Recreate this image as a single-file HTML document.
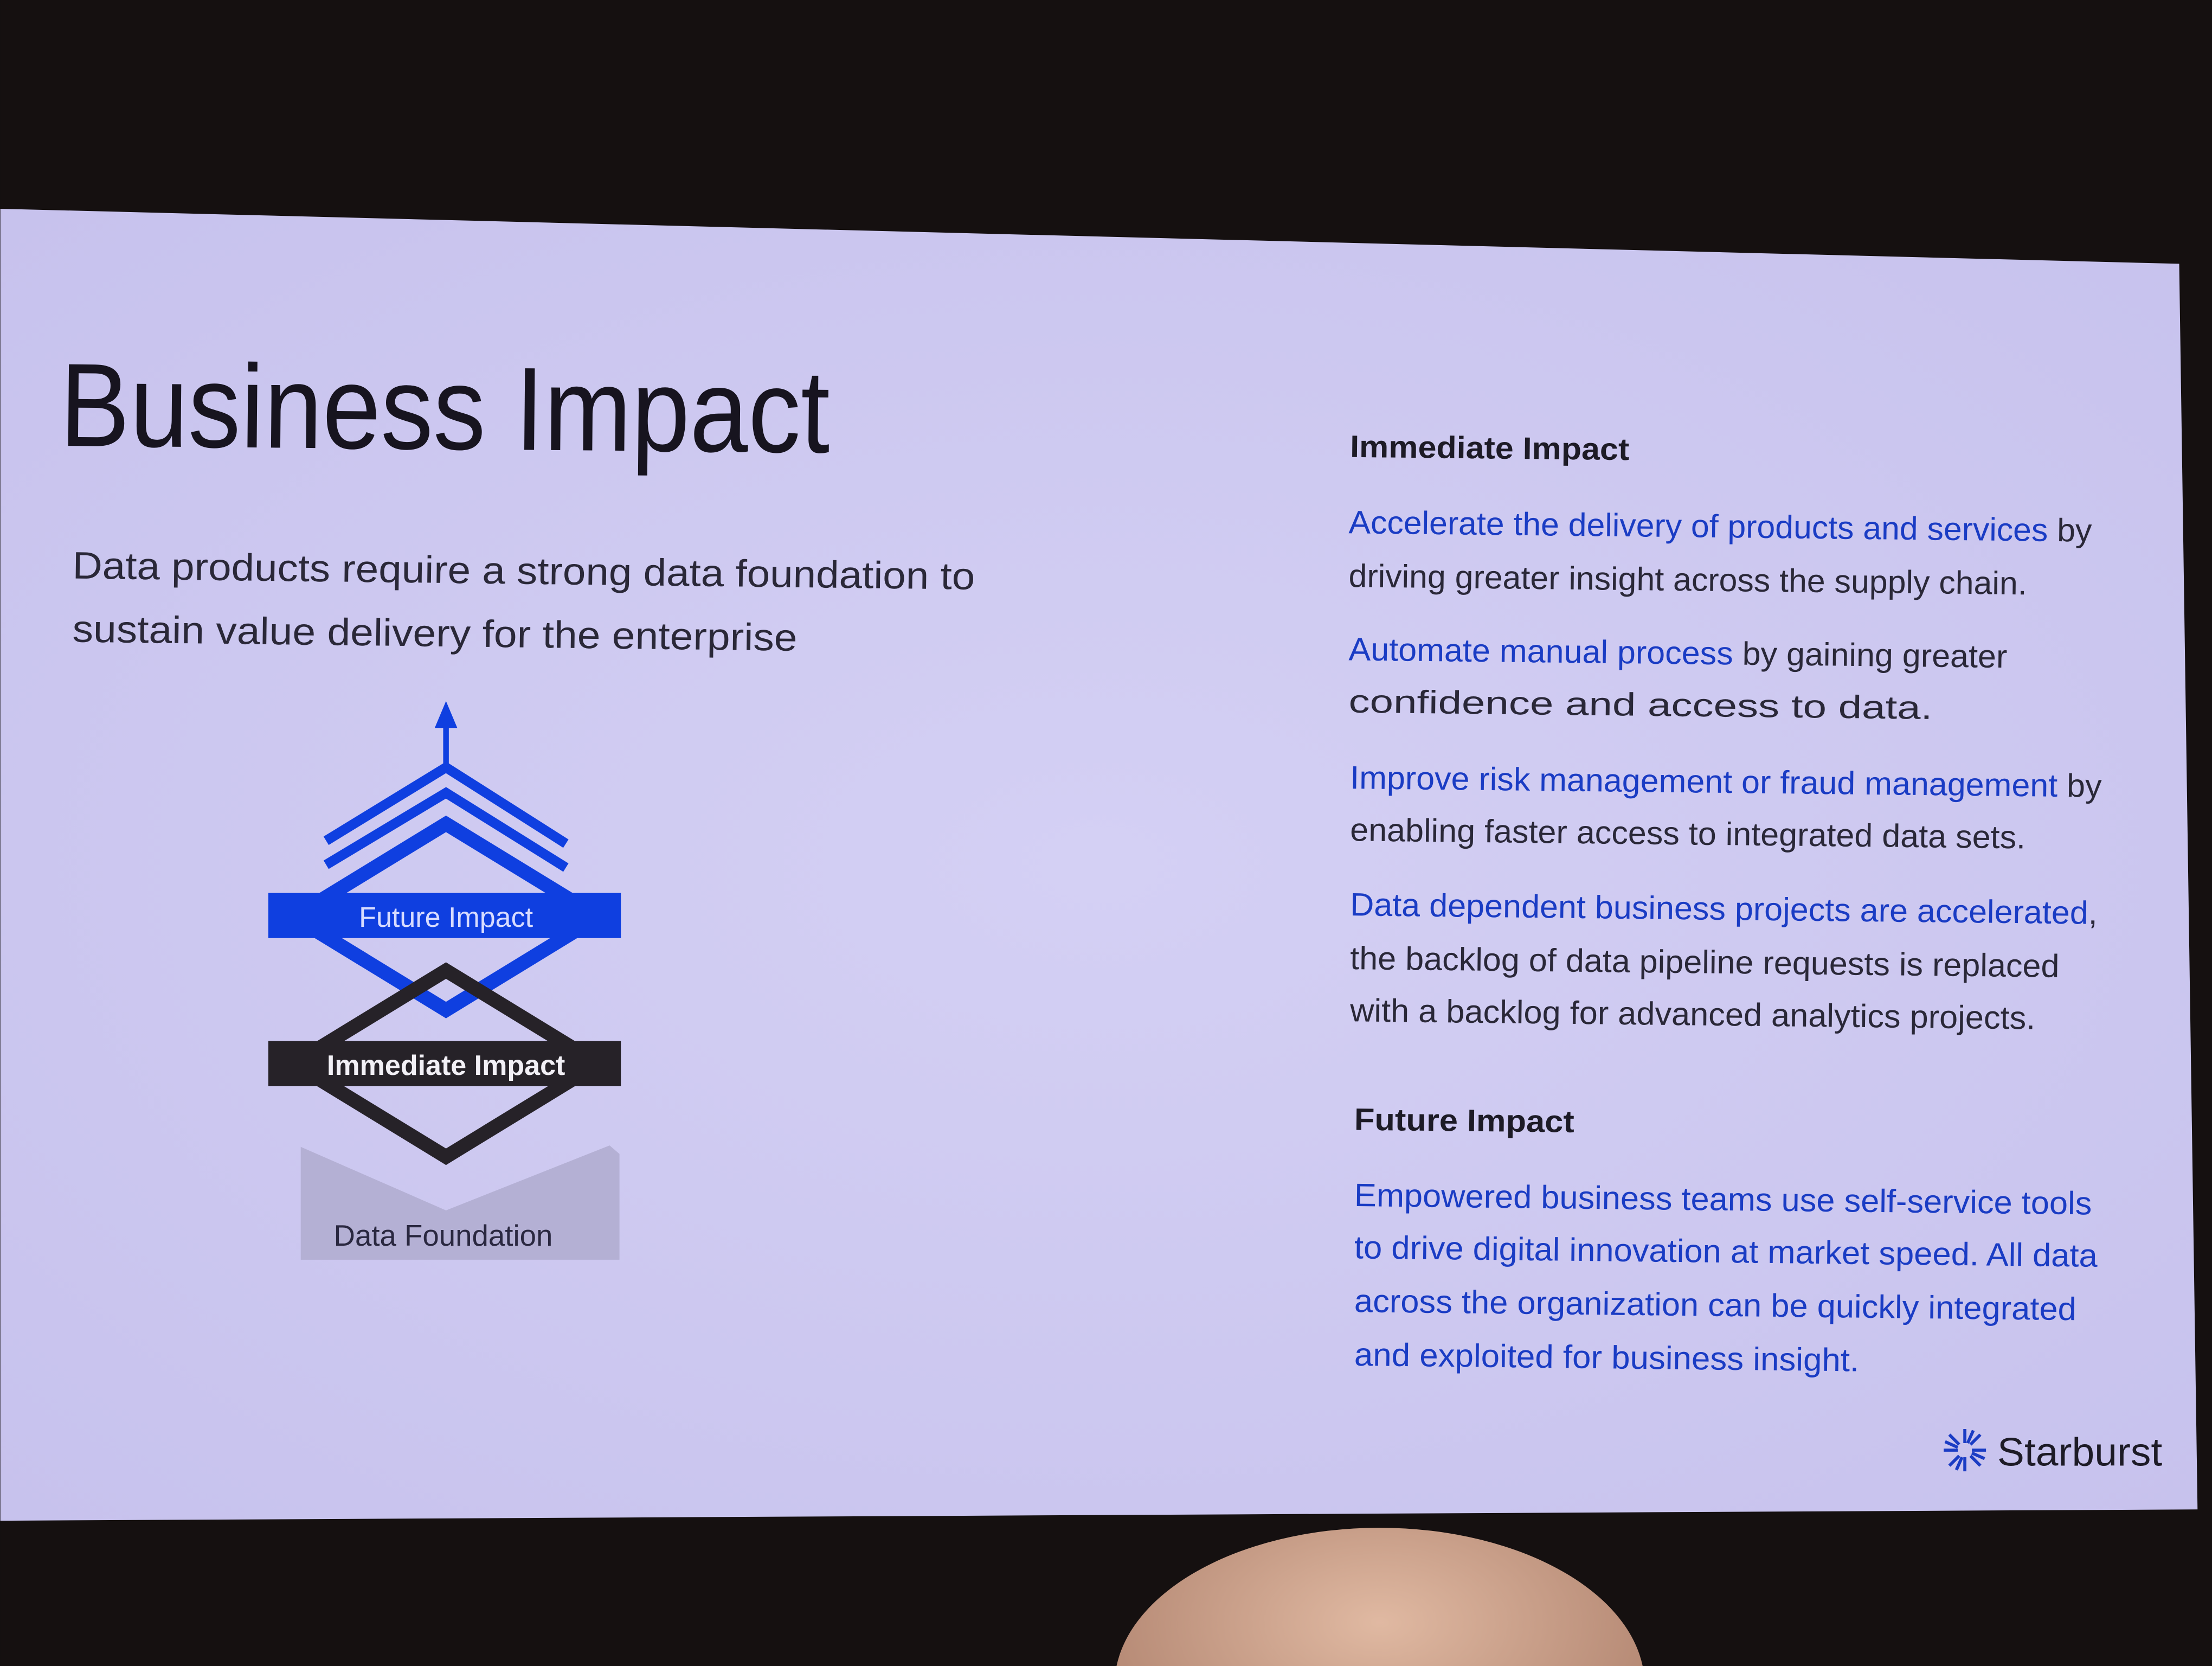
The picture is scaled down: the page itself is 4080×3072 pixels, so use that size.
<!DOCTYPE html>
<html><head><meta charset="utf-8"><style>
html,body{margin:0;padding:0;background:#141010;width:4080px;height:3072px;overflow:hidden;}
svg{display:block;}
text{font-family:"Liberation Sans",sans-serif;}
</style></head>
<body>
<svg width="4080" height="3072" viewBox="0 0 1568 1181" xmlns="http://www.w3.org/2000/svg">
<defs>
<radialGradient id="sg" cx="0.5" cy="0.5" r="0.7">
<stop offset="0" stop-color="#d4d0f4"/><stop offset="1" stop-color="#c7c2ed"/>
</radialGradient>
<radialGradient id="hg" cx="0.5" cy="0.3" r="0.7">
<stop offset="0" stop-color="#e0b9a2"/><stop offset="1" stop-color="#a87a66"/>
</radialGradient>
</defs>
<rect width="1568" height="1181" fill="#151010"/>
<polygon points="0,148 1545,187 1558,1070 0,1078" fill="url(#sg)"/>
<ellipse cx="978" cy="1195" rx="188" ry="112" fill="url(#hg)"/>

<text x="42" y="316" font-size="84" fill="#17141f" textLength="546" lengthAdjust="spacingAndGlyphs" transform="rotate(0.5 42 316)">Business Impact</text>
<text x="51" y="410" font-size="27" fill="#2a2838" textLength="640" lengthAdjust="spacingAndGlyphs" transform="rotate(0.7 51 410)">Data products require a strong data foundation to</text>
<text x="51" y="455" font-size="27" fill="#2a2838" textLength="514" lengthAdjust="spacingAndGlyphs" transform="rotate(0.7 51 455)">sustain value delivery for the enterprise</text>

<g>
<line x1="316" y1="545" x2="316" y2="512" stroke="#0f3fe0" stroke-width="4"/>
<polygon points="316,497 308,516 324,516" fill="#0f3fe0"/>
<polyline points="231,596 316,544 401,598" fill="none" stroke="#0f3fe0" stroke-width="7"/>
<polyline points="231,613 316,562 401,615" fill="none" stroke="#0f3fe0" stroke-width="7"/>
<polygon points="316,584 208,650 316,716 424,650" fill="none" stroke="#0f3fe0" stroke-width="10"/>
<polygon points="316,688 208,754 316,820 424,754" fill="none" stroke="#262228" stroke-width="10"/>
<polygon points="316,584 208,650 316,716 424,650" fill="none" stroke="#0f3fe0" stroke-width="10" stroke-dasharray="0 125 60 400"/>
<rect x="190" y="633" width="250" height="32" fill="#0f3fe0"/>
<text x="316" y="657" font-size="20" fill="#d8dcff" text-anchor="middle">Future Impact</text>
<rect x="190" y="738" width="250" height="32" fill="#262228"/>
<text x="316" y="762" font-size="20" font-weight="bold" fill="#f2f0f6" text-anchor="middle">Immediate Impact</text>
<polygon points="213,813 316,858 432,812 439,818 439,893 213,893" fill="#b4b0d4"/>
<text x="314" y="883" font-size="21" fill="#2a2840" text-anchor="middle">Data Foundation</text>
</g>

<g font-size="23" fill="#2a2838">
<text x="957" y="324" font-size="22" font-weight="bold" fill="#1d1b26" textLength="198" lengthAdjust="spacingAndGlyphs" transform="rotate(0.6 957 324)">Immediate Impact</text>
<text x="956" y="378" textLength="527" lengthAdjust="spacingAndGlyphs" transform="rotate(0.65 956 378)"><tspan fill="#1a3cc4">Accelerate the delivery of products and services</tspan> by</text>
<text x="956" y="416" textLength="481" lengthAdjust="spacingAndGlyphs" transform="rotate(0.65 956 416)">driving greater insight across the supply chain.</text>
<text x="956" y="468" textLength="467" lengthAdjust="spacingAndGlyphs" transform="rotate(0.65 956 468)"><tspan fill="#1a3cc4">Automate manual process</tspan> by gaining greater</text>
<text x="956" y="505" textLength="414" lengthAdjust="spacingAndGlyphs" transform="rotate(0.65 956 505)">confidence and access to data.</text>
<text x="957" y="559" textLength="533" lengthAdjust="spacingAndGlyphs" transform="rotate(0.65 957 559)"><tspan fill="#1a3cc4">Improve risk management or fraud management</tspan> by</text>
<text x="957" y="596" textLength="479" lengthAdjust="spacingAndGlyphs" transform="rotate(0.65 957 596)">enabling faster access to integrated data sets.</text>
<text x="957" y="649" textLength="530" lengthAdjust="spacingAndGlyphs" transform="rotate(0.65 957 649)"><tspan fill="#1a3cc4">Data dependent business projects are accelerated</tspan>,</text>
<text x="957" y="687" textLength="503" lengthAdjust="spacingAndGlyphs" transform="rotate(0.65 957 687)">the backlog of data pipeline requests is replaced</text>
<text x="957" y="724" textLength="486" lengthAdjust="spacingAndGlyphs" transform="rotate(0.65 957 724)">with a backlog for advanced analytics projects.</text>
<text x="960" y="801" font-size="22" font-weight="bold" fill="#1d1b26" textLength="156" lengthAdjust="spacingAndGlyphs" transform="rotate(0.6 960 801)">Future Impact</text>
<text x="960" y="855" fill="#1a3cc4" textLength="523" lengthAdjust="spacingAndGlyphs" transform="rotate(0.65 960 855)">Empowered business teams use self-service tools</text>
<text x="960" y="892" fill="#1a3cc4" textLength="527" lengthAdjust="spacingAndGlyphs" transform="rotate(0.65 960 892)">to drive digital innovation at market speed. All data</text>
<text x="960" y="930" fill="#1a3cc4" textLength="512" lengthAdjust="spacingAndGlyphs" transform="rotate(0.65 960 930)">across the organization can be quickly integrated</text>
<text x="960" y="968" fill="#1a3cc4" textLength="358" lengthAdjust="spacingAndGlyphs" transform="rotate(0.65 960 968)">and exploited for business insight.</text>
</g>

<g>
<g stroke="#1a3cc4" stroke-width="2.2" transform="translate(1393 1028)">
<line x1="0" y1="-15" x2="0" y2="-5"/><line x1="0" y1="15" x2="0" y2="5"/>
<line x1="-15" y1="0" x2="-5" y2="0"/><line x1="15" y1="0" x2="5" y2="0"/>
<line x1="-11" y1="-11" x2="-4" y2="-4"/><line x1="11" y1="11" x2="4" y2="4"/>
<line x1="-11" y1="11" x2="-4" y2="4"/><line x1="11" y1="-11" x2="4" y2="-4"/>
<line x1="6" y1="-14" x2="2" y2="-5"/><line x1="-6" y1="14" x2="-2" y2="5"/>
<line x1="14" y1="6" x2="5" y2="2"/><line x1="-14" y1="-6" x2="-5" y2="-2"/>
</g>
<text x="1416" y="1039" font-size="28" fill="#1d1b26" textLength="117" lengthAdjust="spacingAndGlyphs">Starburst</text>
</g>
</svg>
</body></html>
